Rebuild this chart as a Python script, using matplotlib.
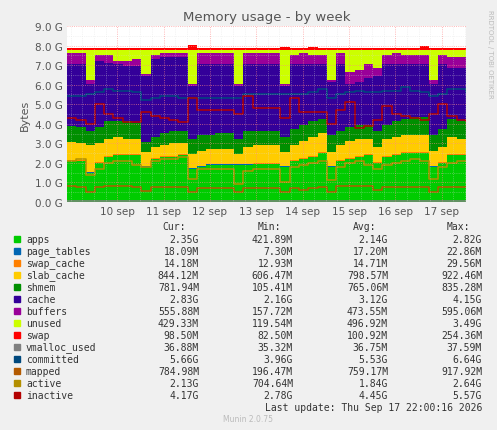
import numpy as np
import matplotlib
matplotlib.use("Agg")
import matplotlib.pyplot as plt

days = np.round(np.arange(44) * 0.2, 2)
apps_top = [2.1,2.1,1.5,2.0,2.3,2.4,2.4,2.4,1.8,2.2,2.3,2.3,2.4,1.7,1.8,1.9,1.9,1.9,1.9,1.9,1.95,1.95,1.95,1.8,2.1,2.2,2.3,2.5,1.8,2.1,2.2,2.3,2.4,2.0,2.3,2.4,2.5,2.5,2.5,1.8,2.0,2.4,2.4,2.35]
slab_top = [3.05,3.0,2.9,3.0,3.2,3.3,3.2,3.2,2.5,2.8,2.9,3.0,3.0,2.4,2.6,2.7,2.7,2.7,2.4,2.8,2.9,2.9,2.9,2.5,2.9,3.1,3.3,3.5,2.5,2.9,3.1,3.2,3.2,2.8,3.2,3.3,3.4,3.4,3.4,2.6,2.8,3.3,3.2,3.2]
shmem_top = [3.85,3.8,3.6,3.8,4.1,4.1,4.1,4.0,3.05,3.3,3.5,3.6,3.6,3.2,3.4,3.4,3.5,3.5,3.2,3.6,3.6,3.6,3.6,3.3,3.7,3.9,4.1,4.2,3.4,3.6,3.8,3.9,3.9,3.6,3.9,4.1,4.2,4.3,4.3,3.4,3.7,4.2,4.1,4.0]
cache_top = [7.0,7.0,6.0,7.2,7.1,7.0,6.9,6.9,6.4,7.3,7.4,7.4,7.4,5.9,7.0,7.0,7.0,7.0,5.9,7.0,7.0,7.0,7.0,5.9,7.0,7.0,7.0,7.0,6.1,7.0,6.0,6.1,6.3,6.4,7.0,7.0,7.0,7.0,7.0,6.0,7.0,6.8,6.8,6.8]
buffers_top = [7.6,7.6,6.2,7.5,7.5,7.2,7.2,7.3,6.5,7.5,7.6,7.6,7.6,6.0,7.6,7.6,7.6,7.6,6.0,7.6,7.6,7.6,7.6,6.0,7.5,7.6,7.5,7.5,6.2,7.6,6.6,6.7,7.0,6.8,7.5,7.6,7.5,7.5,7.5,6.2,7.5,7.4,7.4,7.3]
ram_total = 7.75
swap = [0.1]*44
swap[13] = 0.25; swap[38] = 0.18; swap[26] = 0.15; swap[23] = 0.13
page_tables = [0.018]*44
swap_cache = [0.014]*44
committed = [5.4,5.4,5.5,5.6,5.8,5.7,5.7,5.6,5.2,5.3,5.4,5.4,5.3,5.3,5.3,5.3,5.3,5.3,5.3,5.5,5.5,5.5,5.5,5.5,5.5,5.5,5.6,5.8,5.3,5.5,5.6,5.7,5.6,5.6,5.7,5.7,5.9,5.7,5.6,5.4,5.5,5.8,5.8,5.6]
inactive = [4.3,4.2,4.0,5.0,4.5,4.3,4.1,4.1,4.6,4.4,4.3,4.2,4.1,5.3,4.7,4.7,4.7,4.7,4.5,5.4,4.8,4.8,4.8,4.3,5.3,4.6,4.6,4.6,4.0,4.7,5.1,3.8,3.9,4.2,4.9,4.5,4.4,4.3,4.2,4.5,5.0,4.4,4.2,4.15]
active = [2.1,2.2,1.4,1.7,2.0,2.1,2.1,1.9,1.8,2.1,2.2,2.2,2.3,1.2,1.7,1.7,1.7,1.7,0.9,1.6,1.7,1.7,1.7,1.0,1.8,1.9,2.0,2.1,1.1,1.8,2.0,2.1,1.9,1.7,1.9,2.0,2.1,2.2,2.1,1.2,1.8,2.0,2.1,2.1]
mapped = [0.8,0.75,0.5,0.75,0.8,0.8,0.8,0.75,0.55,0.75,0.75,0.75,0.75,0.5,0.7,0.7,0.7,0.7,0.5,0.7,0.7,0.7,0.7,0.5,0.7,0.6,0.7,0.75,0.5,0.8,0.8,0.8,0.8,0.6,0.75,0.75,0.75,0.75,0.75,0.5,0.75,0.75,0.75,0.78]
vmalloc = [0.037]*44
tick_labels = ["10 sep","11 sep","12 sep","13 sep","14 sep","15 sep","16 sep","17 sep"]

names = ["apps","page_tables","swap_cache","slab_cache","shmem","cache","buffers","unused","swap","vmalloc_used","committed","mapped","active","inactive"]
colors = ["#00CC00","#0066B3","#FF8000","#FFCC00","#008F00","#330099","#990099","#CCFF00","#FF0000","#808080","#00487D","#B35A00","#B38F00","#B30000"]
cur = ["2.35G","18.09M","14.18M","844.12M","781.94M","2.83G","555.88M","429.33M","98.50M","36.88M","5.66G","784.98M","2.13G","4.17G"]
mn = ["421.89M","7.30M","12.93M","606.47M","105.41M","2.16G","157.72M","119.54M","82.50M","35.32M","3.96G","196.47M","704.64M","2.78G"]
avg = ["2.14G","17.20M","14.71M","798.57M","765.06M","3.12G","473.55M","496.92M","100.92M","36.75M","5.53G","759.17M","1.84G","4.45G"]
mx = ["2.82G","22.86M","29.56M","922.46M","835.28M","4.15G","595.06M","3.49G","254.36M","37.59M","6.64G","917.92M","2.64G","5.57G"]

a = np.array(apps_top); pt = np.array(page_tables); sc = np.array(swap_cache)
b1 = a; b2 = b1 + pt; b3 = b2 + sc
slab = np.array(slab_top) - a
b4 = b3 + slab
shm = np.array(shmem_top) - np.array(slab_top)
b5 = b4 + shm
cac = np.array(cache_top) - np.array(shmem_top)
b6 = b5 + cac
buf = np.array(buffers_top) - np.array(cache_top)
b7 = b6 + buf
b8 = np.full(44, ram_total) + (b3 - a)
b9 = b8 + np.array(swap)
layers = [(0, b1), (b1, b2), (b2, b3), (b3, b4), (b4, b5), (b5, b6), (b6, b7), (b7, b8), (b8, b9)]

W, H = 497, 431
fig = plt.figure(figsize=(W/100, H/100), dpi=100, facecolor="#F0F0F0")
ax = fig.add_axes([67/W, (H-203)/H, (466-67)/W, (203-27)/H])
ax.set_facecolor("white")
for (lo, hi), c in zip(layers, colors[:9]):
    ax.fill_between(days, lo, hi, color=c, step="post", lw=0)
for s, c in zip([vmalloc, committed, mapped, active, inactive], colors[9:]):
    ax.step(days, s, where="post", color=c, lw=1.1)
ax.set_xlim(0, 8.6)
ax.set_ylim(0, 9)
ax.set_yticks(np.arange(0, 10))
ax.set_yticklabels([f"{v:.1f} G" for v in range(10)], fontsize=7.5, color="#555555")
ax.set_xticks([1.08 + k for k in range(8)])
ax.set_xticklabels(tick_labels, fontsize=7.5, color="#555555")
ax.set_xticks(np.arange(0.08, 8.6, 0.25), minor=True)
ax.set_yticks(np.arange(0, 9, 0.5), minor=True)
ax.grid(True, which="major", color="#FF8888", ls=":", lw=0.6, alpha=0.8)
ax.grid(True, which="minor", color="#DDDDDD", ls=":", lw=0.5, alpha=0.6)
ax.set_axisbelow(False)
ax.tick_params(length=0, which="both", pad=3)
for sp in ax.spines.values():
    sp.set_visible(False)
ax.set_ylabel("Bytes", fontsize=8, color="#555555")
fig.text(0.5*(67+466)/W, 1-18/H, "Memory usage - by week", ha="center", va="center", fontsize=9.5, color="#555555")
fig.text(490/W, 1-10/H, "RRDTOOL / TOBI OETIKER", rotation=270, ha="center", va="top", fontsize=5, color="#BBBBBB")

mono = "DejaVu Sans Mono"
fs = 7
hy = 1 - 227/H
for xr, t in zip([186, 281, 376, 470], ["Cur:", "Min:", "Avg:", "Max:"]):
    fig.text(xr/W, hy, t, ha="right", va="center", fontsize=fs, family=mono, color="#333333")
for i, n in enumerate(names):
    y = 1 - (240 + 12*i)/H
    fig.patches.append(plt.Rectangle((14/W, y - 3/H), 6/W, 6/H, transform=fig.transFigure, color=colors[i]))
    fig.text(26/W, y, n, ha="left", va="center", fontsize=fs, family=mono, color="#333333")
    for xr, v in zip([199, 293, 388, 482], [cur[i], mn[i], avg[i], mx[i]]):
        fig.text(xr/W, y, v, ha="right", va="center", fontsize=fs, family=mono, color="#333333")
fig.text(482/W, 1-408/H, "Last update: Thu Sep 17 22:00:16 2026", ha="right", va="center", fontsize=fs, family=mono, color="#333333")
fig.text(248/W, 1-420/H, "Munin 2.0.75", ha="center", va="center", fontsize=5.5, color="#BBBBBB")
fig.savefig("out.png", dpi=100, facecolor=fig.get_facecolor())
